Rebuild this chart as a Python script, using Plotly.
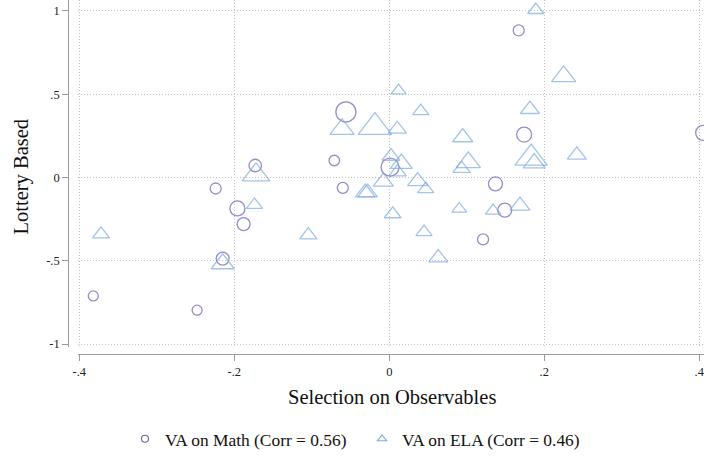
import plotly.graph_objects as go

# ---- data ----
math_x = [-0.382, -0.248, -0.215, -0.196, -0.188, -0.224, -0.173, -0.071, -0.060,
          -0.056, 0.001, 0.121, 0.167, 0.174, 0.137, 0.149, 0.405]
math_y = [-0.711, -0.797, -0.487, -0.186, -0.280, -0.066, 0.072, 0.102, -0.062,
          0.394, 0.062, -0.372, 0.883, 0.258, -0.038, -0.196, 0.268]
math_w = [10, 10, 13, 15, 13, 11, 12.5, 10.5, 11, 20, 18, 11, 11, 15, 14, 14, 15]

ela_x = [-0.372, -0.215, -0.172, -0.174, -0.1045, -0.061, -0.0185, 0.0103, 0.012,
         0.0405, 0.0947, 0.0022, 0.0155, 0.0108, -0.0077, -0.031, -0.028, 0.0366,
         0.047, 0.0044, 0.0448, 0.0632, 0.0903, 0.102, 0.0934, 0.189, 0.225,
         0.1815, 0.242, 0.183, 0.187, 0.134, 0.1686]
ela_y = [-0.341, -0.518, 0.016, -0.165, -0.346, 0.290, 0.303, 0.290, 0.522,
         0.399, 0.241, 0.127, 0.083, 0.032, -0.026, -0.091, -0.091, -0.023,
         -0.070, -0.220, -0.328, -0.482, -0.189, 0.091, 0.053, 1.006, 0.607,
         0.409, 0.135, 0.116, 0.086, -0.200, -0.170]
ela_w = [14.7, 20, 24, 14, 15, 21, 29, 16, 13, 14, 17.5, 15.5, 19, 15, 17.5, 17,
         17, 17.5, 14, 14.5, 14, 16.5, 13, 21, 15, 14, 21, 16.5, 16.5, 28, 19,
         13.5, 17.5]

x_ticks = [-0.4, -0.2, 0, 0.2, 0.4]
x_ticktext = ["-.4", "-.2", "0", ".2", ".4"]
y_ticks = [-1, -0.5, 0, 0.5, 1]
y_ticktext = ["-1", "-.5", "0", ".5", "1"]

series_names = ["VA on Math (Corr = 0.56)", "VA on ELA (Corr = 0.46)"]
x_title = "Selection on Observables"
y_title = "Lottery Based"

# ---- style ----
FONT = "Liberation Serif"
C_MATH = "#6a5caf"
C_ELA = "#7eaade"
W, H = 704, 457
GRID = dict(showgrid=True, gridcolor="#c4c4c4", griddash="1px,2px", gridwidth=1)
AXIS = dict(zeroline=False, showline=True, linecolor="#9a9a9a", linewidth=1.2,
            ticks="outside", ticklen=6, tickcolor="#9a9a9a", tickwidth=1.2,
            tickfont=dict(family=FONT, size=12.5, color="#222"),
            automargin=False, ticklabeloverflow="allow")

fig = go.Figure()
fig.add_trace(go.Scatter(
    x=math_x, y=math_y, mode="markers", showlegend=False,
    marker=dict(symbol="circle-open", size=math_w, color=C_MATH,
                line=dict(width=1.3, color=C_MATH))))
fig.add_trace(go.Scatter(
    x=ela_x, y=ela_y, mode="markers", showlegend=False,
    marker=dict(symbol="triangle-up-open", size=ela_w, color=C_ELA,
                line=dict(width=1.3, color=C_ELA))))
# legend entries
fig.add_trace(go.Scatter(
    x=[None], y=[None], mode="markers", name=series_names[0],
    marker=dict(symbol="circle-open", size=7, color=C_MATH,
                line=dict(width=1.1, color=C_MATH))))
fig.add_trace(go.Scatter(
    x=[None], y=[None], mode="markers", name=series_names[1],
    marker=dict(symbol="triangle-up-open", size=8, color=C_ELA,
                line=dict(width=1.1, color=C_ELA))))

x_left_px, y_bottom_px = 78, 347
fig.update_layout(
    width=W, height=H,
    margin=dict(l=0, r=0, t=0, b=0),
    paper_bgcolor="white", plot_bgcolor="white",
    font=dict(family=FONT, color="#222", size=12.5),
    showlegend=True,
    legend=dict(orientation="h", x=125 / W, xanchor="left",
                y=(H - 439) / H, yanchor="middle",
                font=dict(family=FONT, size=17.4, color="#111"),
                entrywidth=192, entrywidthmode="pixels",
                bgcolor="rgba(0,0,0,0)"),
    xaxis=dict(domain=[x_left_px / W, 1], range=[-0.4017, 0.4061],
               tickvals=x_ticks, ticktext=x_ticktext,
               anchor="free", position=(H - 354.3) / H, **GRID, **AXIS),
    yaxis=dict(domain=[(H - y_bottom_px) / H, 1], range=[-1.018, 1.066],
               tickvals=y_ticks, ticktext=y_ticktext,
               anchor="free", position=68.3 / W, **GRID, **AXIS),
    annotations=[
        dict(text=x_title, xref="paper", yref="paper",
             x=391.5 / W, y=(H - 397) / H, xanchor="center", yanchor="middle",
             showarrow=False, font=dict(family=FONT, size=20.5, color="#111")),
        dict(text=y_title, xref="paper", yref="paper", textangle=-90,
             x=21 / W, y=(H - 176.5) / H, xanchor="center", yanchor="middle",
             showarrow=False, font=dict(family=FONT, size=20.5, color="#111")),
    ],
)

fig.write_html("out.html")
